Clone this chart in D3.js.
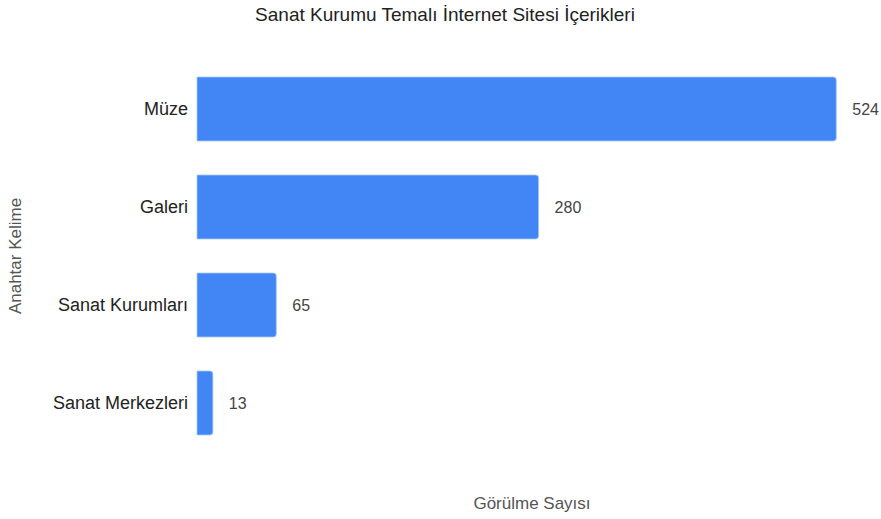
<!DOCTYPE html>
<html><head><meta charset="utf-8">
<script src="https://cdn.jsdelivr.net/npm/d3@7"></script>
<style>body{margin:0;background:#fff;font-family:"Liberation Sans",Arial,sans-serif;}</style>
</head><body>
<svg id="c" width="881" height="519"></svg>
<script>
const categories = ["Müze", "Galeri", "Sanat Kurumları", "Sanat Merkezleri"];
const values = [524, 280, 65, 13];
const title = "Sanat Kurumu Temalı İnternet Sitesi İçerikleri";
const xTitle = "Görülme Sayısı";
const yTitle = "Anahtar Kelime";

const svg = d3.select("#c");
const x = d3.scaleLinear().domain([0, 550]).range([197, 868]);
const y = d3.scaleBand().domain(categories).range([60, 452]).paddingInner(0.347).paddingOuter(0.1735);

svg.append("text").attr("x", 445).attr("y", 21).attr("text-anchor", "middle")
  .attr("font-size", 19).attr("fill", "#222").text(title);

svg.selectAll("path.bar").data(categories).join("path").attr("class", "bar")
  .attr("d", (c, i) => {
    const x0 = x(0), x1 = x(values[i]), y0 = y(c), h = y.bandwidth(), r = Math.min(3, (x1 - x0) / 2);
    return `M${x0},${y0}H${x1 - r}Q${x1},${y0} ${x1},${y0 + r}V${y0 + h - r}Q${x1},${y0 + h} ${x1 - r},${y0 + h}H${x0}Z`;
  })
  .attr("fill", "#4285f4").attr("stroke", "#a9c6fa").attr("stroke-width", 0.8);

svg.selectAll("text.val").data(categories).join("text").attr("class", "val")
  .attr("x", (c, i) => x(values[i]) + 16).attr("y", c => y(c) + y.bandwidth() / 2)
  .attr("dy", "0.35em").attr("font-size", 16).attr("fill", "#444")
  .text((c, i) => values[i]);

const yAxis = svg.append("g").attr("transform", "translate(197,0)")
  .call(d3.axisLeft(y).tickSize(0).tickPadding(9));
yAxis.select(".domain").remove();
yAxis.selectAll("text").attr("font-size", 18).attr("fill", "#222")
  .attr("font-family", "Liberation Sans, Arial, sans-serif");

svg.append("text").attr("x", 532).attr("y", 509).attr("text-anchor", "middle")
  .attr("font-size", 17).attr("fill", "#555").text(xTitle);
svg.append("text").attr("transform", "translate(21,256) rotate(-90)").attr("text-anchor", "middle")
  .attr("font-size", 17).attr("fill", "#555").text(yTitle);
</script>
</body></html>
